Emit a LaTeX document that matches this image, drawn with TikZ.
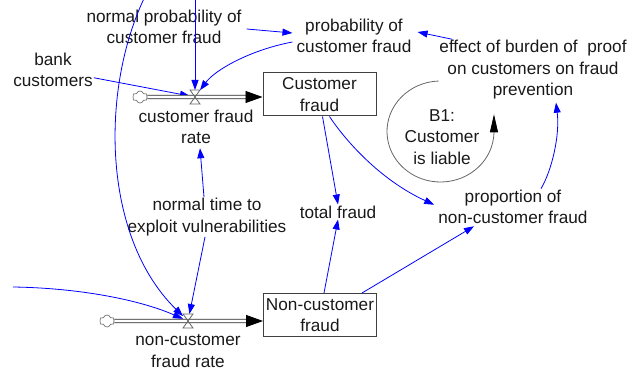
\documentclass[tikz,border=0pt]{standalone}
\usepackage{fontspec}
\setmainfont{Liberation Sans}
\usetikzlibrary{arrows.meta,calc,shapes.symbols}
\begin{document}
\begin{tikzpicture}[x=1pt,y=-1pt,
  every node/.style={font=\fontsize{17.2}{21.5}\selectfont, text=black!90},
  lbl/.style={align=center, inner sep=1pt},
  stock/.style={draw=black!75, line width=1pt, minimum width=113pt, minimum height=43pt, align=center, inner sep=0},
  link/.style={draw=blue, line width=0.8pt, -{Triangle[length=10pt,width=7pt]}},
  valvenode/.style={minimum width=10pt, minimum height=14pt, inner sep=0, outer sep=0},
  hg/.style={draw=black!60, line width=0.8pt},
  cloudy/.style={cloud, cloud puffs=6, draw=black!55, line width=0.7pt, minimum width=15pt, minimum height=12pt, inner sep=0},
  pipe/.style={draw=black!85, double=white, double distance=2.6pt, line width=0.9pt},
  pipetip/.style={draw=black, line width=0.9pt, -{Triangle[length=17pt,width=12pt]}},
  loopline/.style={draw=black!60, line width=0.8pt, -{Triangle[length=18pt,width=8pt,color=black]}}
]
\useasboundingbox (0,0) rectangle (632,371);
\clip (0,0) rectangle (632,371);

% variables and stocks
\node[lbl] (npc) at (164,27) {normal probability of\\customer fraud};
\node[lbl] (pcf) at (354,36) {probability of\\customer fraud};
\node[lbl] (eff) at (533,70) {effect of burden of\ \ proof\\on customers on fraud\\prevention};
\node[lbl] (bank) at (53,70) {bank\\customers};
\node[stock] (cf) at (319.5,94.5) {Customer\\fraud};
\node[lbl] (cfr) at (196,127) {customer fraud\\rate};
\node[lbl] (ntev) at (207,217) {normal time to\\exploit vulnerabilities};
\node[lbl] (tf) at (338,212) {total fraud};
\node[lbl] (pncf) at (513,207) {proportion of\\non-customer fraud};
\node[stock] (ncf) at (320,315) {Non-customer\\fraud};
\node[lbl] (ncfr) at (188,351) {non-customer\\fraud rate};
\node[lbl] (b1) at (442,137) {B1:\\Customer\\is liable};
\node[valvenode] (v1) at (195,97) {};
\node[valvenode] (v2) at (188,321) {};
\node[cloudy] (c1) at (140,97) {};
\node[cloudy] (c2) at (107,321) {};
\coordinate (topA) at (160,-30);
\coordinate (topB) at (195,-5);
\coordinate (leftA) at (13,287);

% information links
\draw[link] (topA) .. controls (100,60) and (95,230) .. (v2);
\draw[link] (leftA) .. controls (80,288) and (140,300) .. (v2);
\draw[link] (topB) -- (v1);
\draw[link] (bank) -- (v1);
\draw[link] ($(pcf.west)+(-3,6)$) .. controls (250,50) and (215,70) .. (v1);
\draw[link] ($(npc.east)+(4,2)$) -- ($(pcf.west)+(-3,-3)$);
\draw[link] ($(eff.north west)+(14,0)$) -- ($(pcf.east)+(5,-4)$);
\draw[link] ($(ntev.north)+(-3,0)$) -- ($(cfr.south)+(4,3)$);
\draw[link] ($(ntev.south)+(-2,0)$) -- (v2);
\draw[link] ($(cf.south)+(3,0)$) -- (tf.north);
\draw[link] ($(cf.south)+(10,0)$) .. controls (345,140) and (380,180) .. ($(pncf.north west)+(-3,16)$);
\draw[link] ($(ncf.north)+(4,0)$) -- (tf.south);
\draw[link] ($(ncf.north east)+(-15,0)$) -- ($(pncf.south)+(-39,1)$);
\draw[link] ($(pncf.north)+(28,0)$) .. controls (552,170) and (560,135) .. ($(eff.south)+(23,2)$);

% loop
\coordinate (lc) at ($(b1)+(-1.5,-5.5)$);
\draw[loopline] (lc) ++(-92:53.5 and 50.5) arc[start angle=-92, end angle=-358, x radius=53.5, y radius=50.5] -- ++(0,-19);

% flows
\draw[pipe] (c1.east) -- (v1.center) -- ($(v1 -| cf.west)+(-15,0)$);
\draw[pipetip] ($(v1 -| cf.west)+(-16,0)$) -- (v1 -| cf.west);
\draw[pipe] (c2.east) -- (v2.center) -- ($(v2 -| ncf.west)+(-15,0)$);
\draw[pipetip] ($(v2 -| ncf.west)+(-16,0)$) -- (v2 -| ncf.west);
\draw[hg] (v1.north west) -- (v1.north east) -- (v1.south west) -- (v1.south east) -- cycle;
\draw[hg] (v2.north west) -- (v2.north east) -- (v2.south west) -- (v2.south east) -- cycle;
\end{tikzpicture}
\end{document}
